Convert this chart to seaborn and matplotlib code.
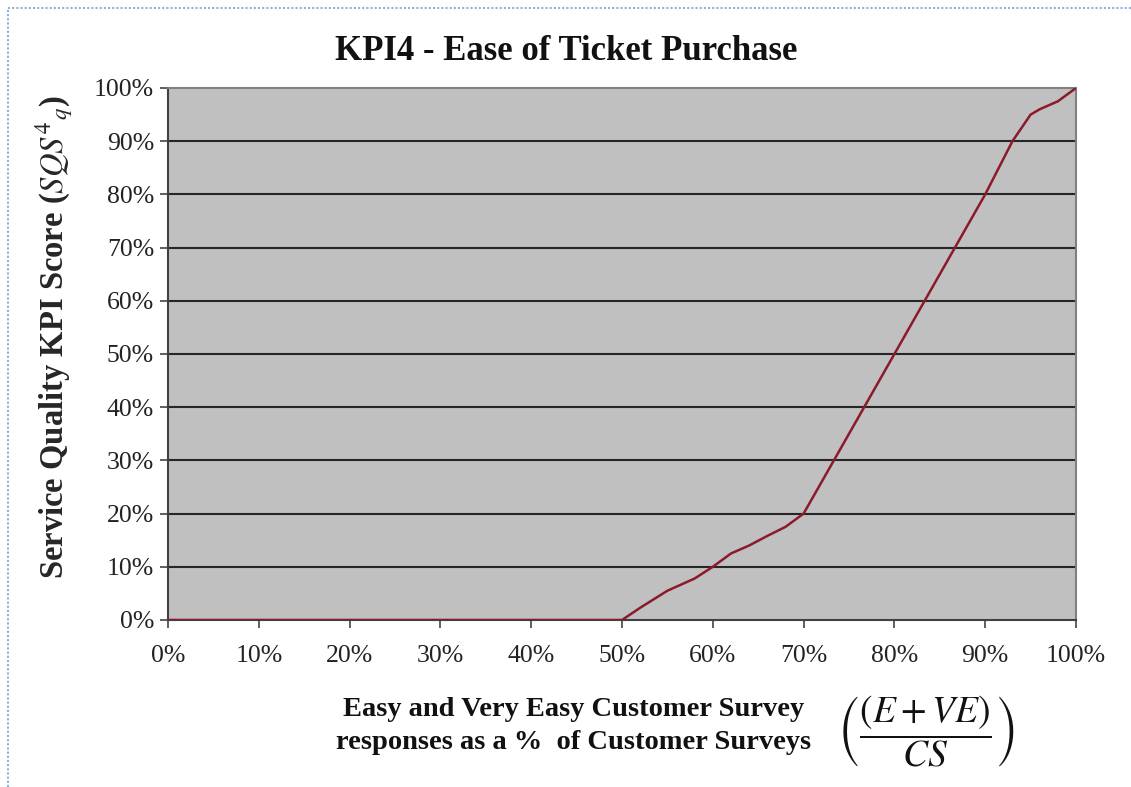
import matplotlib
matplotlib.use("Agg")
import matplotlib.pyplot as plt
from matplotlib.lines import Line2D
import seaborn as sns
import pandas as pd

# Data (percent values)
survey_pct = [0, 50, 52, 55, 58, 60, 62, 64, 66, 68, 70, 72, 75, 80, 85, 90, 93, 95, 96, 98, 100]
kpi_score = [0, 0, 2.3, 5.5, 7.8, 10, 12.5, 14, 15.8, 17.5, 20, 26, 35, 50, 65, 80, 90, 95, 96, 97.5, 100]
tick_values = [0, 10, 20, 30, 40, 50, 60, 70, 80, 90, 100]
tick_labels = [f"{v}%" for v in tick_values]

df = pd.DataFrame({"x": survey_pct, "y": kpi_score})

sns.set_theme(style="white")
plt.rcParams["font.family"] = ["Liberation Serif", "DejaVu Serif"]
plt.rcParams["mathtext.fontset"] = "stix"

fig = plt.figure(figsize=(11.31, 7.87), dpi=100)
ax = fig.add_axes([168/1131, 1 - 620/787, (1076-168)/1131, (620-88)/787])
ax.set_facecolor("#c0c0c0")

for v in tick_values[1:-1]:
    ax.axhline(v, color="#262626", lw=1.5, zorder=1)

sns.lineplot(data=df, x="x", y="y", ax=ax, color="#8b1a2b", lw=1.8, zorder=3)

ax.set_xlim(0, 100)
ax.set_ylim(0, 100)
ax.set_xticks(tick_values)
ax.set_xticklabels(tick_labels, fontsize=18.5, color="#222222")
ax.set_yticks(tick_values)
ax.set_yticklabels(tick_labels, fontsize=18.5, color="#222222")
ax.tick_params(axis="both", direction="out", length=6, width=1.2, color="#444444",
               bottom=True, left=True, pad=4)
ax.tick_params(axis="x", pad=12)
for side in ["top", "right"]:
    ax.spines[side].set_color("#808080")
    ax.spines[side].set_linewidth(1.5)
for side in ["left", "bottom"]:
    ax.spines[side].set_color("#404040")
    ax.spines[side].set_linewidth(1.5)
ax.set_xlabel("")
ax.set_ylabel(r"Service Quality KPI Score ($SQS^{4}{}_{q}$)", fontsize=23.5,
              fontweight="bold", va="center")
ax.yaxis.set_label_coords((55 - 168) / 908, (620 - 337) / 532)

fig.text(566/1131, 1 - 52/787, "KPI4 - Ease of Ticket Purchase", ha="center", va="center",
         fontsize=25, fontweight="bold", color="#111111")

fig.text(574/1131, 1 - 726/787,
         "Easy and Very Easy Customer Survey\nresponses as a %  of Customer Surveys",
         ha="center", va="center", fontsize=20.5, fontweight="bold", color="#111111",
         linespacing=1.45)

fig.text(926/1131, 1 - 731/787, r"$\left(\dfrac{(E+VE)}{CS}\right)$",
         ha="center", va="center", fontsize=27, color="#111111")

# dotted blue border (top and left)
fig.add_artist(Line2D([8/1131, 1], [1 - 8/787, 1 - 8/787], transform=fig.transFigure,
                      color="#8fb2d9", lw=1.5, ls=(0, (1, 1))))
fig.add_artist(Line2D([8/1131, 8/1131], [0, 1 - 8/787], transform=fig.transFigure,
                      color="#8fb2d9", lw=1.5, ls=(0, (1, 1))))

fig.savefig("out.png", dpi=100)
